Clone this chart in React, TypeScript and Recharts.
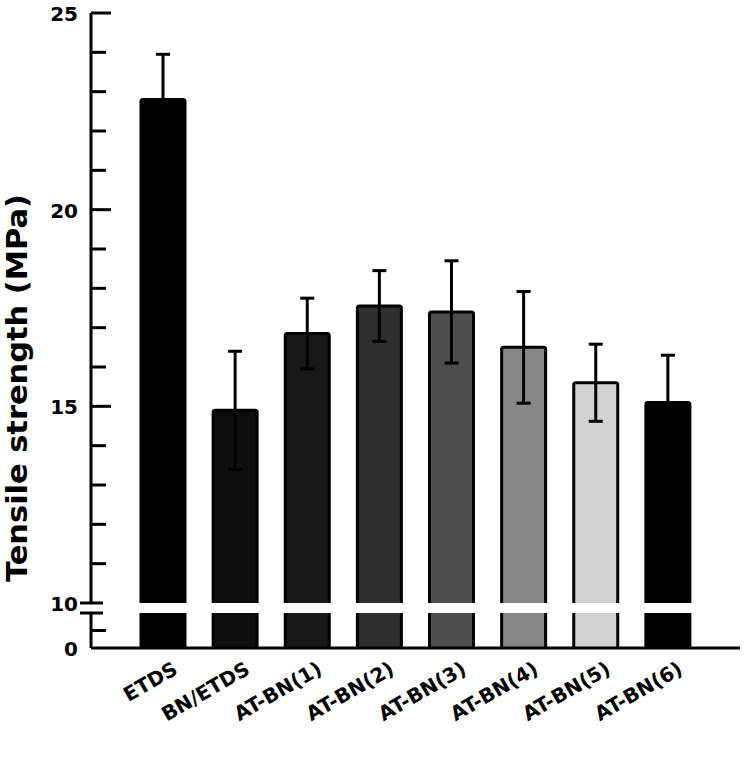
import { Bar, BarChart, Cell, ErrorBar, Label, XAxis, YAxis } from 'recharts'

// tensile strength of the films
const samples = ['ETDS', 'BN/ETDS', 'AT-BN(1)', 'AT-BN(2)', 'AT-BN(3)', 'AT-BN(4)', 'AT-BN(5)', 'AT-BN(6)']
const strength = [22.8, 14.9, 16.85, 17.55, 17.4, 16.5, 15.6, 15.1]
const strengthError = [1.15, 1.5, 0.9, 0.9, 1.3, 1.42, 0.98, 1.2]

// broken y axis: 0..10 squeezed below the break, 10..25 above it
const upperTicks = [10, 11, 12, 13, 14, 15, 16, 17, 18, 19, 20, 21, 22, 23, 24, 25]
const upperLabels = [10, 15, 20, 25]
const lowerTicks = [0, 5, 10]
const lowerLabels = [0]
const BREAK_VALUE = 10

const barColors = ['#000000', '#0e0e0e', '#181818', '#2e2e2e', '#4e4e4e', '#878787', '#d2d2d2', '#000000']

const data = samples.map((name, i) => ({ name, value: strength[i], err: strengthError[i] }))

const FONT = '"DejaVu Sans", sans-serif'
const AXIS = { stroke: '#000', strokeWidth: 3 }
const X_PADDING = { left: 36, right: 36 }

function UpperBar(props: any) {
  const { x, y, width, height, fill } = props
  const bottom = y + height
  const r = 2
  const outline = `M${x},${bottom} L${x},${y + r} Q${x},${y} ${x + r},${y} L${x + width - r},${y} Q${x + width},${y} ${x + width},${y + r} L${x + width},${bottom}`
  return (
    <g>
      <rect x={x} y={y} width={width} height={height} fill={fill} />
      <path d={outline} fill="none" stroke="#000" strokeWidth={3} />
    </g>
  )
}

function LowerBar(props: any) {
  const { x, y, width, height, fill, background } = props
  const bottom = y + height
  const top = background ? Math.max(y, background.y) : y
  return (
    <g>
      <rect x={x} y={top} width={width} height={bottom - top} fill={fill} />
      <path d={`M${x},${top} L${x},${bottom} M${x + width},${top} L${x + width},${bottom}`} stroke="#000" strokeWidth={3} />
    </g>
  )
}

function makeTick(side: 'left' | 'right', labels: number[], bottomValue?: number) {
  return (props: any) => {
    const { x, y, payload } = props
    const v = payload.value
    const dir = side === 'left' ? 1 : -1
    const major = upperLabels.includes(v)
    const len = side === 'left' ? (major ? 20 : 15) : major ? 19 : 14
    let mark = null
    if (v === BREAK_VALUE) {
      mark = <line x1={x - 11} x2={x + 12} y1={y} y2={y} stroke="#000" strokeWidth={3} />
    } else if (v !== bottomValue) {
      mark = <line x1={x} x2={x + dir * len} y1={y} y2={y} stroke="#000" strokeWidth={3} />
    }
    return (
      <g>
        {mark}
        {side === 'left' && labels.includes(v) ? (
          <text x={x - 13} y={y} dy={8} textAnchor="end" fontFamily={FONT} fontSize={20} fontWeight="bold" fill="#000">
            {v}
          </text>
        ) : null}
      </g>
    )
  }
}

function SampleTick(props: any) {
  const { x, y, payload } = props
  const ax = x + 16
  const ay = y + 25
  return (
    <text
      x={ax}
      y={ay}
      transform={`rotate(-30, ${ax}, ${ay})`}
      textAnchor="end"
      fontFamily={FONT}
      fontSize={20}
      fontWeight="bold"
      fill="#000"
    >
      {payload.value}
    </text>
  )
}

function AxisTitle() {
  return (
    <text
      x={27}
      y={388}
      transform="rotate(-90, 27, 388)"
      textAnchor="middle"
      fontFamily={FONT}
      fontSize={28}
      fontWeight="bold"
      textLength={388}
      lengthAdjust="spacingAndGlyphs"
      fill="#000"
    >
      Tensile strength (MPa)
    </text>
  )
}

export default function App() {
  return (
    <div style={{ position: 'absolute', left: 0, top: 0, width: 756, height: 772, background: '#fff' }}>
      <div style={{ position: 'absolute', left: 0, top: 0 }}>
        <BarChart width={756} height={640} data={data} margin={{ top: 13, right: 16, bottom: 37, left: 0 }} barSize={44}>
          <XAxis dataKey="name" hide height={0} padding={X_PADDING} />
          <XAxis xAxisId="top" dataKey="name" orientation="top" height={0} tick={false} tickLine={false} axisLine={AXIS} padding={X_PADDING} />
          <YAxis
            yAxisId="left"
            width={91}
            type="number"
            domain={[10, 25]}
            ticks={upperTicks}
            interval={0}
            tickSize={0}
            tickMargin={0}
            tickLine={false}
            axisLine={AXIS}
            tick={makeTick('left', upperLabels)}
          />
          <YAxis
            yAxisId="right"
            orientation="right"
            width={0}
            type="number"
            domain={[10, 25]}
            ticks={upperTicks}
            interval={0}
            tickSize={0}
            tickMargin={0}
            tickLine={false}
            axisLine={AXIS}
            tick={makeTick('right', [])}
          />
          <Bar yAxisId="left" dataKey="value" shape={UpperBar} isAnimationActive={false}>
            {data.map((item, index) => (
              <Cell key={item.name} fill={barColors[index]} />
            ))}
            <ErrorBar dataKey="err" direction="y" width={7} stroke="#000" strokeWidth={3} isAnimationActive={false} />
          </Bar>
        </BarChart>
      </div>
      <div style={{ position: 'absolute', left: 0, top: 0 }}>
        <BarChart width={756} height={772} data={data} margin={{ top: 613, right: 16, bottom: 0, left: 0 }} barSize={44}>
          <XAxis
            dataKey="name"
            height={124}
            interval={0}
            tickSize={0}
            tickMargin={0}
            tickLine={false}
            axisLine={AXIS}
            tick={SampleTick}
            padding={X_PADDING}
          />
          <YAxis
            yAxisId="left"
            width={91}
            type="number"
            domain={[0, 10]}
            allowDataOverflow
            ticks={lowerTicks}
            interval={0}
            tickSize={0}
            tickMargin={0}
            tickLine={false}
            axisLine={AXIS}
            tick={makeTick('left', lowerLabels, 0)}
          >
            <Label content={AxisTitle} />
          </YAxis>
          <YAxis
            yAxisId="right"
            orientation="right"
            width={0}
            type="number"
            domain={[0, 10]}
            allowDataOverflow
            ticks={lowerTicks}
            interval={0}
            tickSize={0}
            tickMargin={0}
            tickLine={false}
            axisLine={AXIS}
            tick={makeTick('right', [], 0)}
          />
          <Bar yAxisId="left" dataKey="value" shape={LowerBar} isAnimationActive={false}>
            {data.map((item, index) => (
              <Cell key={item.name} fill={barColors[index]} />
            ))}
          </Bar>
        </BarChart>
      </div>
    </div>
  )
}
